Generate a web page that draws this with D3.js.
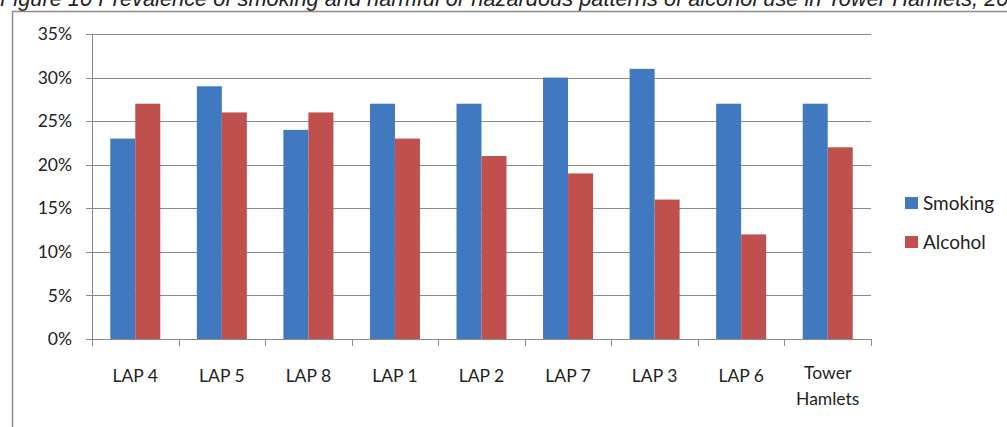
<!DOCTYPE html>
<html>
<head>
<meta charset="utf-8">
<script src="https://cdn.jsdelivr.net/npm/d3@7"></script>
<style>
  html, body { margin: 0; padding: 0; background: #fff; }
  svg { display: block; }
</style>
</head>
<body>
<svg id="chart" width="1007" height="427"></svg>
<script>
// Prevalence of smoking and harmful/hazardous alcohol use by LAP area
const categories = ["LAP 4", "LAP 5", "LAP 8", "LAP 1", "LAP 2", "LAP 7", "LAP 3", "LAP 6", "Tower Hamlets"];
const smoking = [23, 29, 24, 27, 27, 30, 31, 27, 27];
const alcohol = [27, 26, 26, 23, 21, 19, 16, 12, 22];
const seriesNames = ["Smoking", "Alcohol"];
const seriesColors = ["#4079BF", "#C0504D"];
const yTicks = [0, 5, 10, 15, 20, 25, 30, 35];

const svg = d3.select("#chart");
const font = "Lato, 'Open Sans', sans-serif";

// Caption above the frame (runs off the top edge of the page)
svg.append("text")
  .attr("x", 0).attr("y", 6)
  .attr("font-family", "'Liberation Sans', Arial, sans-serif")
  .attr("font-style", "italic")
  .attr("font-size", 21.8)
  .attr("fill", "#222")
  .text("Figure 10 Prevalence of smoking and harmful or hazardous patterns of alcohol use in Tower Hamlets, 2010");

// Chart frame
svg.append("path")
  .attr("d", "M12.5,440 V11.5 H1010")
  .attr("fill", "none")
  .attr("stroke", "#8c8c8c")
  .attr("stroke-width", 1.5);

const plot = { left: 92, right: 871, top: 34, bottom: 339 };

const x = d3.scaleBand().domain(categories).range([plot.left, plot.right]).padding(0);
const x1 = d3.scaleBand().domain(seriesNames).range([0, 50]);
const y = d3.scaleLinear().domain([0, 35]).range([plot.bottom, plot.top]);

// Horizontal gridlines
svg.append("g")
  .selectAll("line")
  .data(yTicks)
  .join("line")
  .attr("x1", plot.left - 6).attr("x2", plot.right)
  .attr("y1", d => Math.round(y(d)) + 0.5).attr("y2", d => Math.round(y(d)) + 0.5)
  .attr("stroke", "#8a8a8a").attr("stroke-width", 1);

// Y axis line
svg.append("line")
  .attr("x1", plot.left + 0.5).attr("x2", plot.left + 0.5)
  .attr("y1", plot.top).attr("y2", plot.bottom)
  .attr("stroke", "#8a8a8a");

// Y tick labels
svg.append("g")
  .selectAll("text")
  .data(yTicks)
  .join("text")
  .attr("x", 72).attr("y", d => y(d))
  .attr("dy", "0.35em")
  .attr("text-anchor", "end")
  .attr("font-family", font).attr("font-size", 17.5)
  .attr("fill", "#222")
  .text(d => d + "%");

// Bars
const groups = svg.append("g")
  .selectAll("g")
  .data(categories.map((c, i) => ({ c, vals: [smoking[i], alcohol[i]] })))
  .join("g")
  .attr("transform", d => `translate(${x(d.c) + x.bandwidth() / 2 - 25},0)`);

groups.selectAll("rect")
  .data(d => d.vals.map((v, k) => ({ v, k })))
  .join("rect")
  .attr("x", d => x1(seriesNames[d.k]))
  .attr("width", x1.bandwidth())
  .attr("y", d => y(d.v))
  .attr("height", d => y(0) - y(d.v))
  .attr("fill", d => seriesColors[d.k]);

// X axis baseline and category tick marks
svg.append("line")
  .attr("x1", plot.left).attr("x2", plot.right)
  .attr("y1", plot.bottom + 0.5).attr("y2", plot.bottom + 0.5)
  .attr("stroke", "#8a8a8a");

const boundaries = categories.map(c => x(c)).concat([plot.right]);
svg.append("g")
  .selectAll("line")
  .data(boundaries)
  .join("line")
  .attr("x1", d => Math.round(d) + 0.5).attr("x2", d => Math.round(d) + 0.5)
  .attr("y1", plot.bottom).attr("y2", plot.bottom + 7)
  .attr("stroke", "#8a8a8a");

// Category labels (wrapped onto two lines where needed)
const labels = svg.append("g")
  .selectAll("text")
  .data(categories)
  .join("text")
  .attr("x", d => x(d) + x.bandwidth() / 2)
  .attr("y", d => d.includes(" ") && !d.startsWith("LAP") ? 373 : 376)
  .attr("text-anchor", "middle")
  .attr("font-family", font).attr("font-size", 17.5)
  .attr("fill", "#222");

labels.each(function (d) {
  const t = d3.select(this);
  if (d.startsWith("LAP")) {
    t.attr("dy", "0.35em").text(d);
  } else {
    d.split(" ").forEach((w, i) => {
      t.append("tspan")
        .attr("x", x(d) + x.bandwidth() / 2)
        .attr("dy", i === 0 ? "0.35em" : "1.5em")
        .text(w);
    });
  }
});

// Legend
const legend = svg.append("g")
  .selectAll("g")
  .data(seriesNames)
  .join("g")
  .attr("transform", (d, i) => `translate(905,${203 + i * 39})`);

legend.append("rect")
  .attr("x", 0).attr("y", -6)
  .attr("width", 13).attr("height", 12)
  .attr("fill", (d, i) => seriesColors[i]);

legend.append("text")
  .attr("x", 18).attr("y", 0)
  .attr("dy", "0.35em")
  .attr("font-family", font).attr("font-size", 19)
  .attr("fill", "#222")
  .text(d => d);
</script>
</body>
</html>
